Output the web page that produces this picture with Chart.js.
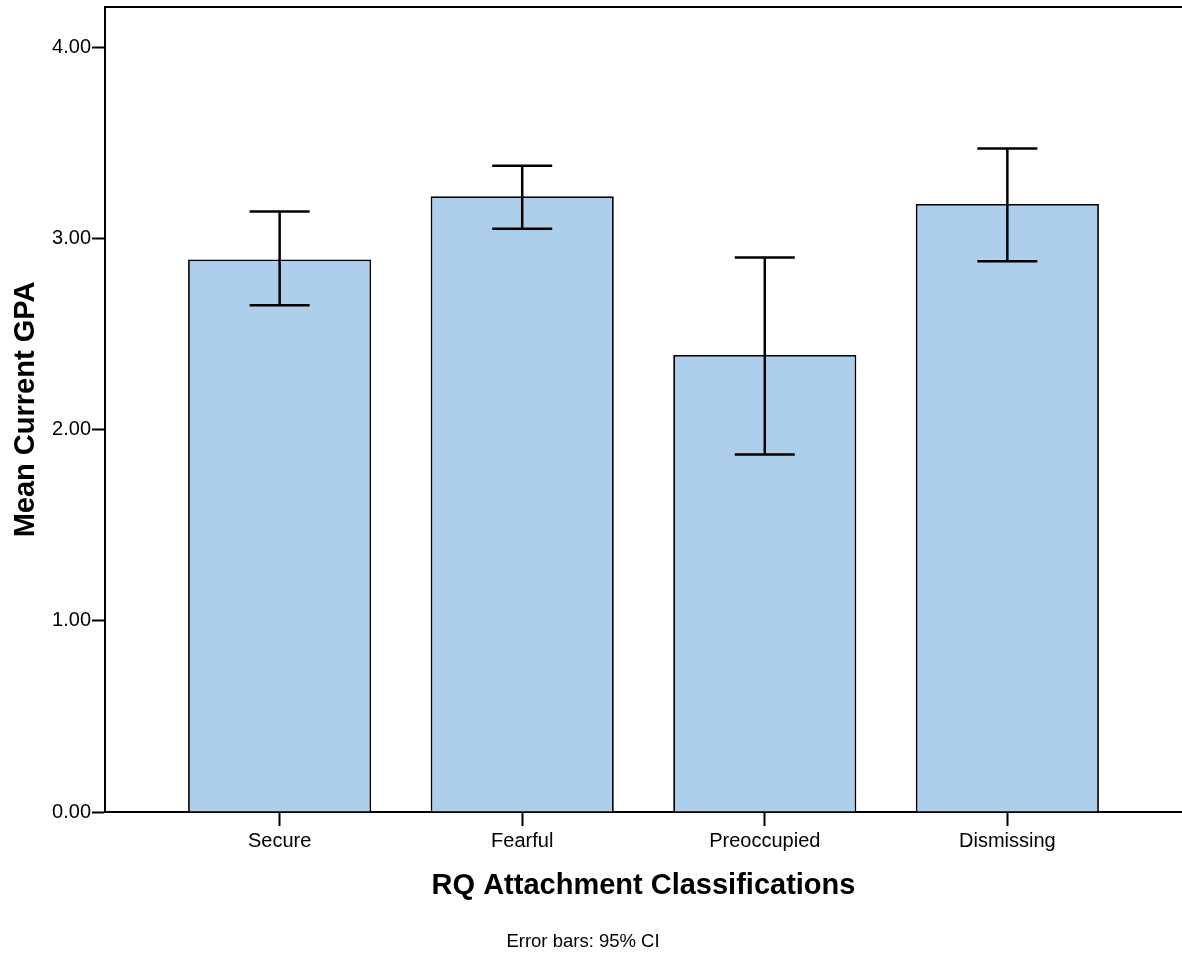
<!DOCTYPE html>
<html>
<head>
<meta charset="utf-8">
<script src="https://cdn.jsdelivr.net/npm/chart.js@4"></script>
<style>
  html, body { margin: 0; padding: 0; background: #fff; }
  #wrap { width: 1182px; height: 957px; }
</style>
</head>
<body>
<div id="wrap"><canvas id="gpaChart"></canvas></div>
<script>
const categories = ['Secure', 'Fearful', 'Preoccupied', 'Dismissing'];
const meanGpa = [2.89, 3.22, 2.39, 3.18];
const ciLow = [2.65, 3.05, 1.87, 2.88];
const ciHigh = [3.14, 3.38, 2.90, 3.47];
const yTicks = [0, 1, 2, 3, 4];

const FONT = "'Liberation Sans', Arial, sans-serif";

// error bars, top border of the frame, footnote
const errorBars = {
    id: 'errorBars',
    afterDatasetsDraw(chart) {
        const ctx = chart.ctx;
        const x = chart.scales.x, y = chart.scales.y;
        ctx.save();
        ctx.strokeStyle = '#000';
        ctx.lineWidth = 2.5;
        for (let i = 0; i < categories.length; i++) {
            const cx = x.getPixelForValue(i);
            const yl = y.getPixelForValue(ciLow[i]);
            const yh = y.getPixelForValue(ciHigh[i]);
            ctx.beginPath();
            ctx.moveTo(cx, yh); ctx.lineTo(cx, yl);
            ctx.moveTo(cx - 30, yh); ctx.lineTo(cx + 30, yh);
            ctx.moveTo(cx - 30, yl); ctx.lineTo(cx + 30, yl);
            ctx.stroke();
        }
        const a = chart.chartArea;
        ctx.lineWidth = 2;
        ctx.beginPath();
        ctx.moveTo(a.left, a.top);
        ctx.lineTo(a.right, a.top);
        ctx.stroke();

        ctx.fillStyle = '#000';
        ctx.font = '18.5px ' + FONT;
        ctx.textAlign = 'center';
        ctx.textBaseline = 'middle';
        ctx.fillText('Error bars: 95% CI', 583, 942);
        ctx.restore();
    }
};

new Chart(document.getElementById('gpaChart'), {
    type: 'bar',
    data: {
        datasets: [{
            data: meanGpa.map((v, i) => ({ x: i, y: v })),
            backgroundColor: 'rgb(174, 207, 236)',
            borderColor: '#000',
            borderWidth: 1.8,
            barPercentage: 0.755,
            categoryPercentage: 1
        }]
    },
    options: {
        responsive: true,
        maintainAspectRatio: false,
        animation: false,
        layout: { padding: { top: 7, right: 0, bottom: 54, left: 0 } },
        plugins: {
            legend: { display: false },
            tooltip: { enabled: false }
        },
        scales: {
            x: {
                type: 'linear',
                offset: false,
                min: -0.72,
                max: 3.72,
                afterBuildTicks: s => { s.ticks = categories.map((c, i) => ({ value: i })); },
                afterFit: s => { s.height = 91; s.paddingLeft = 0; s.paddingRight = 0; },
                ticks: {
                    callback: v => categories[v],
                    color: '#000',
                    font: { family: FONT, size: 20 },
                    padding: 3,
                    maxRotation: 0,
                    autoSkip: false
                },
                grid: {
                    offset: false,
                    drawOnChartArea: false,
                    tickLength: 14,
                    tickWidth: 2,
                    tickColor: '#000'
                },
                border: { color: '#000', width: 2 },
                title: {
                    display: true,
                    text: 'RQ Attachment Classifications',
                    color: '#000',
                    font: { family: FONT, size: 29, weight: 'bold' },
                    padding: { top: 0, bottom: 0 }
                }
            },
            y: {
                min: 0,
                max: 4.21,
                afterBuildTicks: s => { s.ticks = yTicks.map(v => ({ value: v })); },
                afterFit: s => { s.width = 105; s.paddingTop = 0; s.paddingBottom = 0; },
                ticks: {
                    callback: v => v.toFixed(2),
                    color: '#000',
                    font: { family: FONT, size: 20 },
                    padding: 1
                },
                grid: {
                    drawOnChartArea: false,
                    tickLength: 13,
                    tickWidth: 2,
                    tickColor: '#000'
                },
                border: { color: '#000', width: 2 },
                title: {
                    display: true,
                    text: 'Mean Current GPA',
                    color: '#000',
                    font: { family: FONT, size: 29, weight: 'bold' },
                    padding: { top: 9, bottom: 0 }
                }
            }
        }
    },
    plugins: [errorBars]
});
</script>
</body>
</html>
